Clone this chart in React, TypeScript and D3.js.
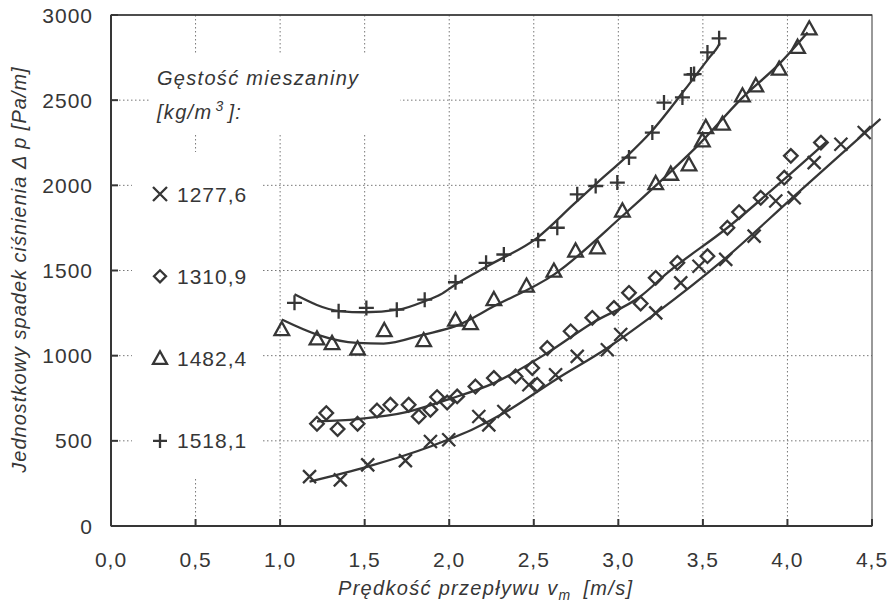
import React from "react";
import * as d3 from "d3";

// values (velocity v_m [m/s], pressure drop [Pa/m])
const xTicks = [0, 0.5, 1, 1.5, 2, 2.5, 3, 3.5, 4, 4.5];
const xTickLabels = ["0,0", "0,5", "1,0", "1,5", "2,0", "2,5", "3,0", "3,5", "4,0", "4,5"];
const yTicks = [0, 500, 1000, 1500, 2000, 2500, 3000];
const yTickLabels = ["0", "500", "1000", "1500", "2000", "2500", "3000"];

const legendNames = ["1277,6", "1310,9", "1482,4", "1518,1"];
const legendMarkers = ["cross", "diamond", "triangle", "plus"];

// 1277,6 kg/m3
const crossV = [1.174, 1.356, 1.518, 1.741, 1.889, 1.997, 2.175, 2.234, 2.323, 2.471, 2.629, 2.757, 2.935, 3.014, 3.221, 3.369, 3.477, 3.635, 3.803, 3.931, 4.04, 4.158, 4.316, 4.454];
const crossP = [290, 271, 359, 384, 496, 506, 643, 594, 672, 829, 888, 996, 1035, 1124, 1251, 1427, 1525, 1565, 1702, 1908, 1927, 2133, 2241, 2310];
const crossFitV = [1.174, 1.518, 1.889, 2.155, 2.323, 2.629, 2.935, 3.211, 3.625, 4.04, 4.55];
const crossFitP = [261, 349, 467, 575, 663, 859, 1045, 1241, 1565, 1937, 2390];

// 1310,9 kg/m3
const diamondV = [1.218, 1.273, 1.34, 1.458, 1.573, 1.652, 1.76, 1.82, 1.889, 1.928, 1.988, 2.047, 2.155, 2.264, 2.392, 2.491, 2.52, 2.58, 2.718, 2.846, 2.974, 3.063, 3.132, 3.221, 3.349, 3.527, 3.645, 3.714, 3.842, 3.981, 4.02, 4.198];
const diamondP = [600, 663, 569, 600, 678, 712, 712, 643, 682, 757, 725, 761, 819, 869, 878, 927, 829, 1045, 1143, 1222, 1280, 1369, 1306, 1457, 1545, 1584, 1751, 1843, 1927, 2045, 2173, 2251];
const diamondFitV = [1.218, 1.458, 1.76, 2.0, 2.264, 2.58, 2.846, 3.132, 3.29, 3.645, 3.98, 4.237];
const diamondFitP = [614, 628, 672, 745, 839, 1016, 1192, 1349, 1486, 1751, 2035, 2261];

// 1482,4 kg/m3
const triangleV = [1.01, 1.218, 1.307, 1.458, 1.616, 1.849, 2.037, 2.126, 2.264, 2.457, 2.619, 2.747, 2.876, 3.024, 3.221, 3.31, 3.418, 3.497, 3.517, 3.616, 3.734, 3.813, 3.951, 4.06, 4.129];
const triangleP = [1153, 1098, 1071, 1039, 1147, 1088, 1208, 1188, 1329, 1408, 1496, 1614, 1633, 1849, 2010, 2065, 2120, 2261, 2339, 2359, 2525, 2584, 2682, 2810, 2918];
const triangleFitV = [1.01, 1.218, 1.455, 1.612, 1.849, 2.037, 2.264, 2.619, 3.024, 3.25, 3.487, 3.724, 3.96, 4.119];
const triangleFitP = [1212, 1124, 1075, 1071, 1124, 1173, 1290, 1476, 1820, 2025, 2251, 2505, 2722, 2898];

// 1518,1 kg/m3
const plusV = [1.085, 1.346, 1.51, 1.69, 1.855, 2.037, 2.218, 2.323, 2.526, 2.639, 2.757, 2.866, 2.994, 3.063, 3.201, 3.27, 3.379, 3.43, 3.448, 3.527, 3.596];
const plusP = [1310, 1261, 1280, 1270, 1329, 1431, 1545, 1594, 1678, 1751, 1947, 1996, 2016, 2163, 2310, 2486, 2516, 2650, 2653, 2780, 2863];
const plusFitV = [1.085, 1.35, 1.5, 1.7, 1.855, 1.948, 2.037, 2.244, 2.52, 2.735, 2.876, 3.053, 3.19, 3.388, 3.546, 3.586, 3.6];
const plusFitP = [1360, 1262, 1255, 1270, 1320, 1359, 1418, 1535, 1692, 1888, 2016, 2173, 2310, 2555, 2760, 2810, 2835];

const ink = "#363636";
const font = "'Liberation Sans', Arial, sans-serif";

function marker(kind: string, s: number) {
  if (kind === "cross") return `M${-s},${-s}L${s},${s}M${-s},${s}L${s},${-s}`;
  if (kind === "plus") return `M${-s},0L${s},0M0,${-s}L0,${s}`;
  if (kind === "diamond") return `M0,${-s}L${s},0L0,${s}L${-s},0Z`;
  return `M0,${-s * 1.05}L${s},${s * 0.75}L${-s},${s * 0.75}Z`;
}

export default function App() {
  const width = 893;
  const height = 609;
  const x = d3.scaleLinear().domain([0, 4.5]).range([111, 872]);
  const y = d3.scaleLinear().domain([0, 3000]).range([526, 15]);

  const line = d3
    .line<[number, number]>()
    .x((d) => x(d[0]))
    .y((d) => y(d[1]))
    .curve(d3.curveMonotoneX);

  const series = [
    { kind: "cross", v: crossV, p: crossP, fv: crossFitV, fp: crossFitP, size: 6.5 },
    { kind: "diamond", v: diamondV, p: diamondP, fv: diamondFitV, fp: diamondFitP, size: 6.8 },
    { kind: "triangle", v: triangleV, p: triangleP, fv: triangleFitV, fp: triangleFitP, size: 7.3 },
    { kind: "plus", v: plusV, p: plusP, fv: plusFitV, fp: plusFitP, size: 7.5 },
  ];

  const [x0, x1] = x.range();
  const [y0, y1] = y.range();

  return (
    <svg
      width={width}
      height={height}
      style={{ position: "absolute", left: 0, top: 0, background: "#fff" }}
      fontFamily={font}
    >
      <rect width={width} height={height} fill="#fff" />

      {/* dotted grid */}
      <g stroke="#777" strokeWidth={1} strokeDasharray="1.5,2.5">
        {xTicks.slice(1, -1).map((t) => (
          <line key={"gx" + t} x1={x(t)} x2={x(t)} y1={y1} y2={y0} />
        ))}
        {yTicks.slice(1, -1).map((t) => (
          <line key={"gy" + t} x1={x0} x2={x1} y1={y(t)} y2={y(t)} />
        ))}
      </g>

      {/* legend sits on white, masking the grid */}
      <rect x={150} y={53} width={250} height={82} fill="#fff" />
      <rect x={132} y={152} width={130} height={326} fill="#fff" />

      {/* frame and axes */}
      <rect x={x0} y={y1} width={x1 - x0} height={y0 - y1} fill="none" stroke="#555" strokeWidth={1.2} />
      <line x1={x0} x2={x0} y1={y1} y2={y0} stroke={ink} strokeWidth={2} />
      <line x1={x0} x2={x1} y1={y0} y2={y0} stroke={ink} strokeWidth={2} />
      <line x1={x0} x2={x1} y1={y1} y2={y1} stroke={ink} strokeWidth={1.5} />
      {yTicks.map((t) => (
        <line key={"ty" + t} x1={x0} x2={x0 + 7} y1={y(t)} y2={y(t)} stroke={ink} strokeWidth={2} />
      ))}
      {xTicks.map((t) => (
        <line key={"tx" + t} x1={x(t)} x2={x(t)} y1={y0} y2={y0 - 7} stroke={ink} strokeWidth={2} />
      ))}

      {/* tick labels */}
      <g fill={ink} fontSize={21} letterSpacing={1}>
        {yTicks.map((t, i) => (
          <text key={"ly" + t} x={93} y={y(t)} dy="0.36em" textAnchor="end">
            {yTickLabels[i]}
          </text>
        ))}
        {xTicks.map((t, i) => (
          <text key={"lx" + t} x={x(t)} y={567} textAnchor="middle">
            {xTickLabels[i]}
          </text>
        ))}
      </g>

      {/* axis titles */}
      <text x={338} y={595} fill={ink} fontSize={20} fontStyle="italic" letterSpacing={1.3}>
        Prędkość przepływu v
        <tspan fontSize={14} dy={5}>m</tspan>
        <tspan dy={-5} dx={12}>[m/s]</tspan>
      </text>
      <text
        transform={`translate(26,${(y0 + y1) / 2 - 1}) rotate(-90)`}
        textAnchor="middle"
        fill={ink}
        fontSize={20}
        fontStyle="italic"
        letterSpacing={1}
      >
        Jednostkowy spadek ciśnienia Δ p [Pa/m]
      </text>

      {/* fitted curves */}
      <g fill="none" stroke={ink} strokeWidth={2.3}>
        {series.map((s) => (
          <path key={"c" + s.kind} d={line(s.fv.map((v, i) => [v, s.fp[i]] as [number, number])) ?? ""} />
        ))}
      </g>

      {/* measured points */}
      <g fill="none" stroke={ink} strokeWidth={2.3}>
        {series.map((s) =>
          s.v.map((v, i) => (
            <path key={s.kind + i} transform={`translate(${x(v)},${y(s.p[i])})`} d={marker(s.kind, s.size)} />
          ))
        )}
      </g>

      {/* legend */}
      <g fill={ink} fontSize={20} fontStyle="italic" letterSpacing={1.3}>
        <text x={157} y={85}>Gęstość mieszaniny</text>
        <text x={157} y={119}>
          [kg/m
          <tspan fontSize={14} dy={-8} dx={3}>3</tspan>
          <tspan dy={8} dx={4}>]:</tspan>
        </text>
      </g>
      {legendNames.map((name, i) => {
        const cy = 194 + i * 82.3;
        return (
          <g key={name}>
            <path
              transform={`translate(160,${cy})`}
              d={marker(legendMarkers[i], legendMarkers[i] === "diamond" ? 6 : 7)}
              fill="none"
              stroke={ink}
              strokeWidth={2.3}
            />
            <text x={177} y={cy + 7.5} fill={ink} fontSize={21} letterSpacing={1}>
              {name}
            </text>
          </g>
        );
      })}
    </svg>
  );
}
